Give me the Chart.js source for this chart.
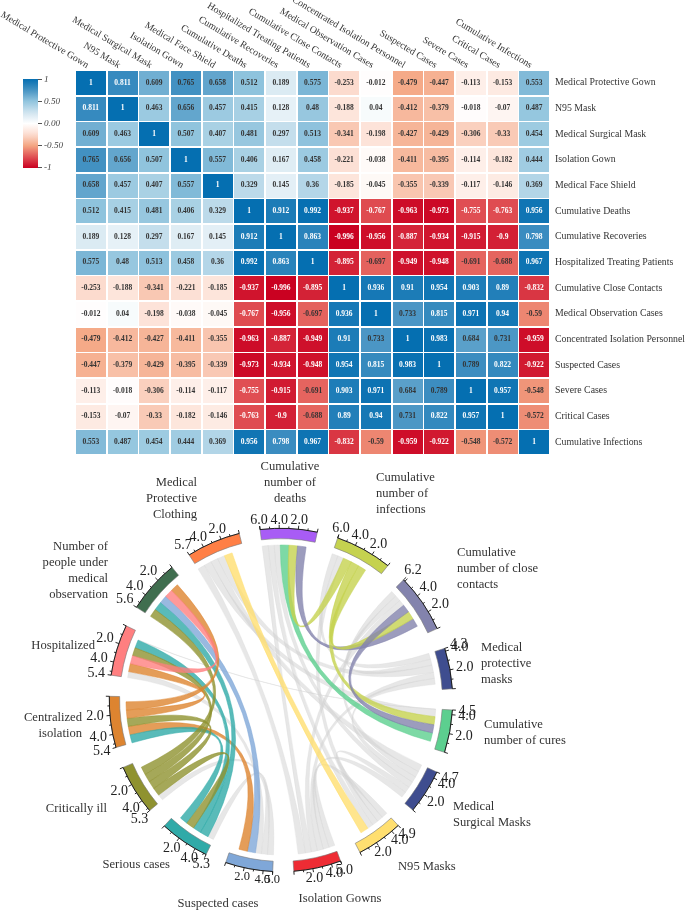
<!DOCTYPE html>
<html>
<head>
<meta charset="utf-8">
<style>
  html, body { margin: 0; padding: 0; background: #fff; }
  canvas { position: absolute; left: 0; }
  #heatChart { top: 0; }
  #chordChart { top: 460px; }
</style>
<script src="https://cdn.jsdelivr.net/npm/chart.js@4"></script>
</head>
<body>
<canvas id="heatChart" width="685" height="468"></canvas>
<canvas id="chordChart" width="685" height="451"></canvas>
<script>
// --- DATA: HEATMAP ---
const heatLabels = ['Medical Protective Gown', 'N95 Mask', 'Medical Surgical Mask', 'Isolation Gown', 'Medical Face Shield',
  'Cumulative Deaths', 'Cumulative Recoveries', 'Hospitalized Treating Patients', 'Cumulative Close Contacts',
  'Medical Observation Cases', 'Concentrated Isolation Personnel', 'Suspected Cases', 'Severe Cases', 'Critical Cases',
  'Cumulative Infections'];
const corrValues = [
  [1, 0.811, 0.609, 0.765, 0.658, 0.512, 0.189, 0.575, -0.253, -0.012, -0.479, -0.447, -0.113, -0.153, 0.553],
  [0.811, 1, 0.463, 0.656, 0.457, 0.415, 0.128, 0.48, -0.188, 0.04, -0.412, -0.379, -0.018, -0.07, 0.487],
  [0.609, 0.463, 1, 0.507, 0.407, 0.481, 0.297, 0.513, -0.341, -0.198, -0.427, -0.429, -0.306, -0.33, 0.454],
  [0.765, 0.656, 0.507, 1, 0.557, 0.406, 0.167, 0.458, -0.221, -0.038, -0.411, -0.395, -0.114, -0.182, 0.444],
  [0.658, 0.457, 0.407, 0.557, 1, 0.329, 0.145, 0.36, -0.185, -0.045, -0.355, -0.339, -0.117, -0.146, 0.369],
  [0.512, 0.415, 0.481, 0.406, 0.329, 1, 0.912, 0.992, -0.937, -0.767, -0.963, -0.973, -0.755, -0.763, 0.956],
  [0.189, 0.128, 0.297, 0.167, 0.145, 0.912, 1, 0.863, -0.996, -0.956, -0.887, -0.934, -0.915, -0.9, 0.798],
  [0.575, 0.48, 0.513, 0.458, 0.36, 0.992, 0.863, 1, -0.895, -0.697, -0.949, -0.948, -0.691, -0.688, 0.967],
  [-0.253, -0.188, -0.341, -0.221, -0.185, -0.937, -0.996, -0.895, 1, 0.936, 0.91, 0.954, 0.903, 0.89, -0.832],
  [-0.012, 0.04, -0.198, -0.038, -0.045, -0.767, -0.956, -0.697, 0.936, 1, 0.733, 0.815, 0.971, 0.94, -0.59],
  [-0.479, -0.412, -0.427, -0.411, -0.355, -0.963, -0.887, -0.949, 0.91, 0.733, 1, 0.983, 0.684, 0.731, -0.959],
  [-0.447, -0.379, -0.429, -0.395, -0.339, -0.973, -0.934, -0.948, 0.954, 0.815, 0.983, 1, 0.789, 0.822, -0.922],
  [-0.113, -0.018, -0.306, -0.114, -0.117, -0.755, -0.915, -0.691, 0.903, 0.971, 0.684, 0.789, 1, 0.957, -0.548],
  [-0.153, -0.07, -0.33, -0.182, -0.146, -0.763, -0.9, -0.688, 0.89, 0.94, 0.731, 0.822, 0.957, 1, -0.572],
  [0.553, 0.487, 0.454, 0.444, 0.369, 0.956, 0.798, 0.967, -0.832, -0.59, -0.959, -0.922, -0.548, -0.572, 1]
];
const legendTicks = ['1', '0.50', '0.00', '-0.50', '-1'];

// --- DATA: CHORD ---
// clockwise from the top
const sectorNames = [
  ['Cumulative', 'number of', 'deaths'], ['Cumulative', 'number of', 'infections'], ['Cumulative', 'number of close', 'contacts'],
  ['Medical', 'protective', 'masks'], ['Cumulative', 'number of cures'], ['Medical', 'Surgical Masks'], ['N95 Masks'],
  ['Isolation Gowns'], ['Suspected cases'], ['Serious cases'], ['Critically ill'], ['Centralized', 'isolation'],
  ['Hospitalized'], ['Number of', 'people under', 'medical', 'observation'], ['Medical', 'Protective', 'Clothing']
];
const sectorTotals = [6.0, 6.0, 6.2, 4.3, 4.5, 4.7, 4.9, 5.0, 5.0, 5.3, 5.3, 5.4, 5.4, 5.6, 5.7];
const sectorColors = ['#a85cf5', '#c5d24f', '#8383ad', '#3f4d8f', '#5ccf8f', '#3f4d8f', '#ffdf70', '#ee2c34',
  '#7fa7d8', '#30aaa8', '#8f9230', '#dd8430', '#ff7f80', '#406e4f', '#ff7f45'];
const gapValue = 2.21;
// [sector, sector, width, colour sector or null for grey]
const linkValues = [
  [0, 7, 0.7, null], [0, 6, 0.7, null], [0, 5, 0.7, null], [1, 3, 0.7, null], [1, 6, 0.7, null],
  [2, 5, 0.7, null], [2, 3, 0.7, null], [2, 7, 0.7, null], [3, 14, 0.85, null], [3, 7, 0.7, null], [3, 5, 0.7, null],
  [4, 14, 0.85, null], [4, 12, 0.04, null], [5, 14, 0.85, null], [5, 6, 0.7, null], [5, 7, 0.7, null],
  [6, 7, 0.7, null], [7, 14, 0.85, null], [8, 10, 0.7, null], [8, 9, 0.7, null], [8, 12, 0.7, null],
  [0, 4, 1.0, 4], [0, 1, 1.0, 1], [0, 2, 1.0, 2], [1, 2, 0.95, 1], [1, 4, 0.95, 1], [2, 4, 0.95, 2],
  [6, 14, 0.95, 6], [8, 13, 0.95, 8], [8, 11, 1.0, 11], [9, 13, 1.0, 9], [9, 12, 0.95, 9], [9, 11, 0.95, 9],
  [9, 10, 0.95, 10], [10, 11, 0.95, 10], [10, 12, 0.95, 10], [10, 13, 0.95, 10], [11, 12, 0.95, 11],
  [11, 13, 0.95, 11], [12, 13, 0.95, 12]
];
// partners in clockwise order inside each sector
const sectorOrder = [
  [7, 6, 5, 4, 1, 2], [3, 6, 0, 4, 2], [5, 3, 7, 4, 1, 0], [1, 2, 14, 7, 5], [12, 14, 1, 2, 0], [14, 2, 3, 0, 6, 7],
  [7, 5, 1, 0, 14], [6, 5, 3, 2, 0, 14], [10, 9, 12, 13, 11], [8, 13, 12, 10, 11], [8, 9, 11, 12, 13],
  [9, 8, 10, 12, 13], [8, 11, 13, 10, 9, 4], [10, 9, 8, 12, 11], [7, 4, 5, 3, 6]
];

// --- 1. HEATMAP ---
const colorStops = [
  [-1, [202, 0, 32]], [-0.75, [224, 80, 84]], [-0.5, [244, 165, 130]], [-0.25, [252, 220, 207]], [0, [255, 255, 255]],
  [0.25, [207, 228, 239]], [0.5, [146, 197, 222]], [0.75, [70, 147, 195]], [1, [5, 111, 177]]
];
function corrColor(v) {
  for (let i = 1; i < colorStops.length; i++) {
    if (v <= colorStops[i][0]) {
      const [v0, c0] = colorStops[i - 1];
      const [v1, c1] = colorStops[i];
      const t = (v - v0) / (v1 - v0);
      return 'rgb(' + c0.map((c, k) => Math.round(c + (c1[k] - c) * t)).join(',') + ')';
    }
  }
  return 'rgb(5,111,177)';
}

// a cell is a point whose style is a small coloured canvas
const cellCache = {};
function cellStyle(v) {
  if (!cellCache[v]) {
    const c = document.createElement('canvas');
    c.width = 30;
    c.height = 24;
    const g = c.getContext('2d');
    g.fillStyle = corrColor(v);
    g.fillRect(0, 0, 30, 24);
    cellCache[v] = c;
  }
  return cellCache[v];
}

const heatPoints = [];
corrValues.forEach((row, r) => row.forEach((v, c) => heatPoints.push({ x: heatLabels[c], y: heatLabels[r], v: v })));

const heatOverlay = {
  id: 'heatOverlay',
  afterDatasetsDraw(chart) {
    const ctx = chart.ctx;
    const xs = chart.scales.x;
    const meta = chart.getDatasetMeta(0);
    ctx.save();
    // values in the cells
    ctx.font = 'bold 7.5px "Liberation Serif"';
    ctx.textAlign = 'center';
    ctx.textBaseline = 'middle';
    meta.data.forEach((pt, i) => {
      const v = heatPoints[i].v;
      ctx.fillStyle = (v >= 0.79 || v <= -0.75) ? '#ffffff' : '#333333';
      ctx.fillText(String(v), pt.x, pt.y);
    });
    // slanted column labels
    ctx.font = '9.8px "Liberation Serif"';
    ctx.fillStyle = '#333333';
    ctx.textAlign = 'right';
    heatLabels.forEach((name, i) => {
      ctx.save();
      ctx.translate(xs.getPixelForValue(i) - 3, 66);
      ctx.rotate(31 * Math.PI / 180);
      ctx.fillText(name, 0, 0);
      ctx.restore();
    });
    // colour legend
    const grad = ctx.createLinearGradient(0, 79, 0, 168);
    for (let i = 0; i <= 20; i++) grad.addColorStop(i / 20, corrColor(1 - i / 10));
    ctx.fillStyle = grad;
    ctx.fillRect(23, 79, 15, 89);
    ctx.strokeStyle = '#555555';
    ctx.fillStyle = '#444444';
    ctx.font = 'italic 9.2px "Liberation Serif"';
    ctx.textAlign = 'left';
    legendTicks.forEach((t, i) => {
      const y = 79.5 + i * 22;
      ctx.beginPath();
      ctx.moveTo(38, y);
      ctx.lineTo(42, y);
      ctx.stroke();
      ctx.fillText(t, 44, y);
    });
    ctx.restore();
  }
};

new Chart(document.getElementById('heatChart'), {
  type: 'scatter',
  data: {
    datasets: [{
      data: heatPoints,
      clip: false,
      pointRadius: 12,
      pointStyle: c => cellStyle(c.raw.v)
    }]
  },
  options: {
    responsive: false,
    animation: false,
    layout: { padding: { left: 75, top: 70, bottom: 6 } },
    plugins: { legend: { display: false }, tooltip: { enabled: false } },
    scales: {
      x: { type: 'category', labels: heatLabels, offset: true, display: false },
      y: {
        type: 'category',
        labels: heatLabels,
        offset: true,
        position: 'right',
        afterFit(scale) { scale.width = 135; },
        border: { display: false },
        grid: { display: false, drawTicks: false },
        ticks: { autoSkip: false, padding: 5, color: '#333333', font: { family: '"Liberation Serif"', size: 9.8 } }
      }
    }
  },
  plugins: [heatOverlay]
});

// --- 2. CHORD ---
const ribbonRadius = 155;
const labelAnchors = [
  [290, 7, 'center'], [376, 18, 'left'], [457, 93, 'left'], [481, 188, 'left'], [484, 265, 'left'], [453, 347, 'left'],
  [398, 407, 'left'], [340, 439, 'center'], [218, 444, 'center'], [170, 405, 'right'], [107, 349, 'right'],
  [82, 258, 'right'], [95, 186, 'right'], [108, 87, 'right'], [197, 23, 'right']
];
const smallTickSector = 8; // suspected cases has smaller tick text in the source

function findLink(a, b) {
  return linkValues.find(l => (l[0] === a && l[1] === b) || (l[0] === b && l[1] === a));
}

const chordOverlay = {
  id: 'chordOverlay',
  beforeDatasetsDraw(chart) {
    const ctx = chart.ctx;
    const arcs = chart.getDatasetMeta(0).data;
    const cx = arcs[0].x, cy = arcs[0].y;

    // lay the link ends out inside each sector
    const slots = {};
    sectorOrder.forEach((partners, s) => {
      const arc = arcs[s * 2];
      const unit = (arc.endAngle - arc.startAngle) / sectorTotals[s];
      let pos = arc.startAngle;
      partners.forEach(p => {
        const w = findLink(s, p)[2] * unit;
        slots[s + '-' + p] = [pos, pos + w];
        pos += w;
      });
    });

    const drawRibbon = (a, b) => {
      const [a0, a1] = slots[a + '-' + b];
      const [b0, b1] = slots[b + '-' + a];
      ctx.beginPath();
      ctx.arc(cx, cy, ribbonRadius, a0, a1);
      ctx.quadraticCurveTo(cx, cy, cx + ribbonRadius * Math.cos(b0), cy + ribbonRadius * Math.sin(b0));
      ctx.arc(cx, cy, ribbonRadius, b0, b1);
      ctx.quadraticCurveTo(cx, cy, cx + ribbonRadius * Math.cos(a0), cy + ribbonRadius * Math.sin(a0));
      ctx.closePath();
      ctx.fill();
      ctx.stroke();
    };

    ctx.save();
    ctx.lineWidth = 0.6;
    // grey first, coloured ones on top
    linkValues.filter(l => l[3] === null).forEach(l => {
      ctx.globalAlpha = 0.5;
      ctx.fillStyle = '#cfcfcf';
      ctx.strokeStyle = '#d8d8d8';
      drawRibbon(l[0], l[1]);
    });
    linkValues.filter(l => l[3] !== null).forEach(l => {
      ctx.globalAlpha = 0.8;
      ctx.fillStyle = sectorColors[l[3]];
      ctx.strokeStyle = sectorColors[l[3]];
      drawRibbon(l[0], l[1]);
    });
    ctx.restore();
  },
  afterDatasetsDraw(chart) {
    const ctx = chart.ctx;
    const arcs = chart.getDatasetMeta(0).data;
    ctx.save();
    sectorTotals.forEach((total, s) => {
      const arc = arcs[s * 2];
      const cx = arc.x, cy = arc.y, R = arc.outerRadius;
      const unit = (arc.endAngle - arc.startAngle) / total;
      // axis line
      ctx.strokeStyle = '#111111';
      ctx.lineWidth = 0.9;
      ctx.beginPath();
      ctx.arc(cx, cy, R, arc.startAngle, arc.endAngle);
      ctx.stroke();
      // ticks run from the clockwise end back
      const tickAt = (v, len) => {
        const a = arc.endAngle - v * unit;
        ctx.beginPath();
        ctx.moveTo(cx + R * Math.cos(a), cy + R * Math.sin(a));
        ctx.lineTo(cx + (R + len) * Math.cos(a), cy + (R + len) * Math.sin(a));
        ctx.stroke();
      };
      for (let v = 0; v <= total; v++) tickAt(v, v % 2 === 0 ? 3.5 : 2);
      tickAt(total, 3.5);
      // tick labels
      ctx.font = (s === smallTickSector ? '12.5px' : '14px') + ' "Liberation Serif"';
      ctx.fillStyle = '#222222';
      ctx.textAlign = 'center';
      ctx.textBaseline = 'middle';
      [2, 4, total].forEach(v => {
        const a = arc.endAngle - v * unit;
        const r = R + 8 + 7 * Math.abs(Math.cos(a));
        ctx.fillText(v.toFixed(1), cx + r * Math.cos(a), cy + r * Math.sin(a));
      });
      // sector name
      const [lx, ly, align] = labelAnchors[s];
      ctx.font = '12.6px "Liberation Serif"';
      ctx.fillStyle = '#333333';
      ctx.textAlign = align;
      sectorNames[s].forEach((line, i) => ctx.fillText(line, lx, ly + i * 16));
    });
    ctx.restore();
  }
};

new Chart(document.getElementById('chordChart'), {
  type: 'doughnut',
  data: {
    labels: sectorTotals.flatMap((t, i) => [sectorNames[i].join(' '), 'gap']),
    datasets: [{
      data: sectorTotals.flatMap(t => [t, gapValue]),
      backgroundColor: sectorColors.flatMap(c => [c, 'rgba(0,0,0,0)']),
      borderColor: sectorColors.flatMap(c => ['#777777', 'rgba(0,0,0,0)']),
      borderWidth: 0.6
    }]
  },
  options: {
    responsive: false,
    animation: false,
    rotation: -7,
    cutout: '94%',
    layout: { padding: { left: 109, right: 232, top: 68, bottom: 39 } },
    plugins: { legend: { display: false }, tooltip: { enabled: false } }
  },
  plugins: [chordOverlay]
});
</script>
</body>
</html>
